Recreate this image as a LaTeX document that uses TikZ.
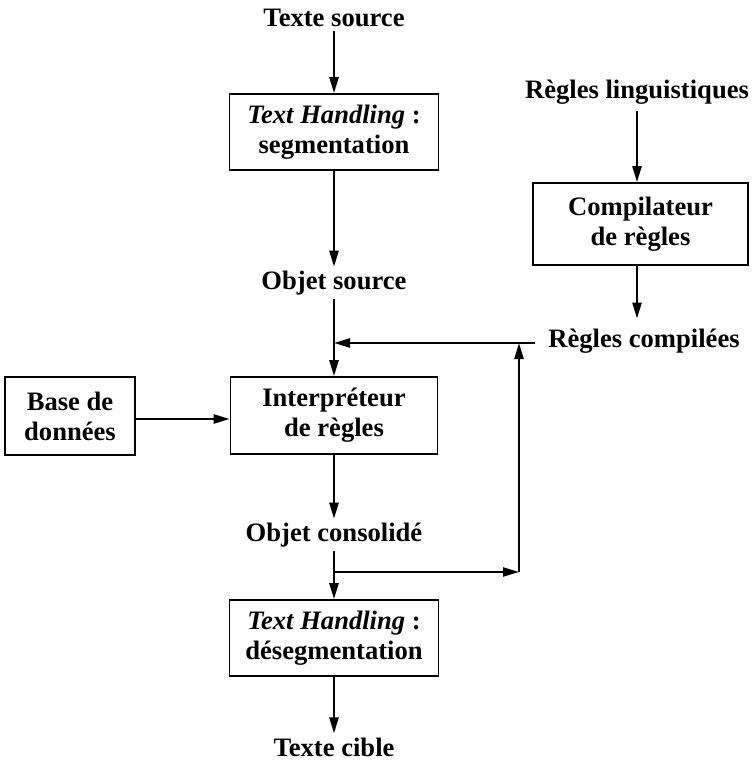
\documentclass[tikz,border=0pt]{standalone}
\usepackage{fontspec}
\setmainfont{Liberation Serif}
\usetikzlibrary{arrows.meta}
\begin{document}
\begin{tikzpicture}[x=1pt,y=-1pt,
  font=\fontsize{26.6}{30}\selectfont\bfseries,
  box/.style={draw,line width=1.6pt,align=center,inner sep=0pt},
  lbl/.style={inner sep=4pt,align=center},
  flow/.style={line width=2.3pt,-{Triangle[length=16pt,width=9pt]}},
  plain/.style={line width=2.3pt}]
\useasboundingbox (0,0) rectangle (752,767);

% main column
\node[lbl] (ts) at (334,18) {Texte source};
\node[box,minimum width=209pt,minimum height=76pt] (seg) at (334,132)
  {\textit{Text Handling} :\\segmentation};
\node[lbl] (os) at (334,283) {Objet source};
\node[box,minimum width=207pt,minimum height=77pt] (interp) at (334,415.5)
  {Interpréteur\\de règles};
\node[lbl] (oc) at (334,535) {Objet consolidé};
\node[box,minimum width=209pt,minimum height=76pt] (deseg) at (334,638)
  {\textit{Text Handling} :\\désegmentation};
\node[lbl] (tc) at (334,747) {Texte cible};

% data base
\node[box,minimum width=130pt,minimum height=78pt] (bd) at (70,416)
  {Base de\\données};

% rule compilation
\node[lbl] (rl) at (637,92) {Règles linguistiques};
\node[box,minimum width=215pt,minimum height=82pt] (comp) at (640.5,224)
  {Compilateur\\de règles};
\node[lbl] (rc) at (644,341) {Règles compilées};

% feedback loop
\coordinate (br) at (334,572);
\coordinate (fbl) at (519,572);
\coordinate (fbh) at (519,343);

% connectors
\draw[flow] (ts) -- (seg);
\draw[flow] (seg) -- (os);
\draw[flow] (os) -- (interp);
\draw[flow] (interp) -- (oc);
\draw[flow] (oc) -- (deseg);
\draw[flow] (deseg) -- (tc);
\draw[flow] (bd.east |- 0,419) -- (interp.west |- 0,419);
\draw[flow,shorten <=3pt] (rl) -- (comp.north -| rl);
\draw[flow,shorten >=6pt] (comp.south -| rl) -- (rc.north -| rl);
\draw[flow,shorten <=9pt] (rc.west |- fbh) -- (fbh -| interp.north);
\draw[flow] (br) -- (fbl);
\draw[flow] (fbl) -- (fbh);
\end{tikzpicture}
\end{document}
